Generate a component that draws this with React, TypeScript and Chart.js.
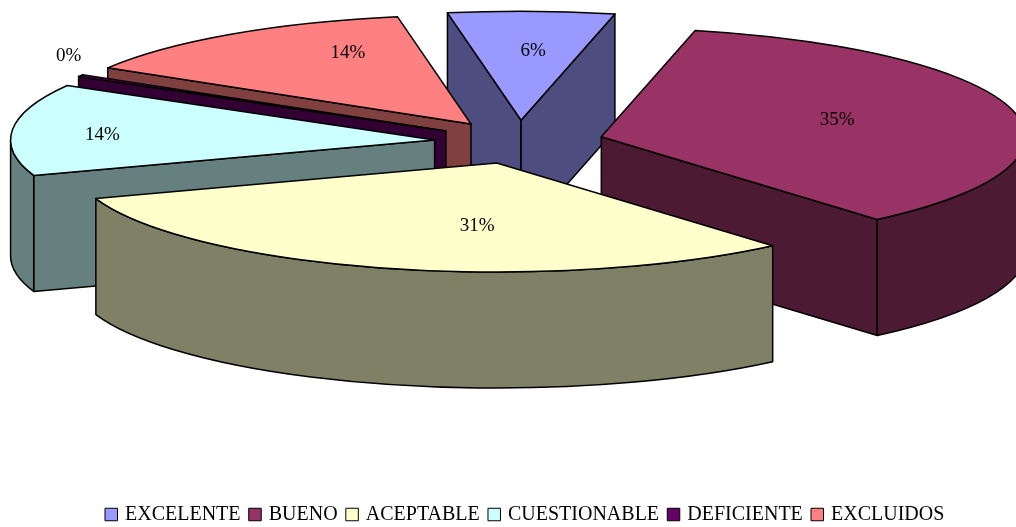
import React, { useEffect, useRef } from "react";
import { Chart, registerables } from "chart.js";

Chart.register(...registerables);

const categories = ["EXCELENTE", "BUENO", "ACEPTABLE", "CUESTIONABLE", "DEFICIENTE", "EXCLUIDOS"];
const sliceValues = [6.33, 35.17, 31, 13.6, 0.3, 13.6];
const percentLabels = ["6%", "35%", "31%", "14%", "0%", "14%"];
const topColors = ["#9999FF", "#993366", "#FFFFCC", "#CCFFFF", "#660066", "#FF8080"];
const sideColors = ["#4D4D80", "#4D1A33", "#808066", "#668080", "#330033", "#804040"];
const labelNudge = [[6, -4], [-11, -1], [47, 0], [-79, 1], [-158, -42], [21, -17]];

const RX = 424;
const RY = 109;
const DEPTH = 116;
const EXPLODE = 0.2;
const SERIF = '"Liberation Serif", "Times New Roman", serif';

const pie3d = {
  id: "pie3d",
  beforeDatasetsDraw(chart: any) {
    const ctx = chart.ctx;
    const arcs = chart.getDatasetMeta(0).data.map((el: any, i: number) => {
      const s = el.startAngle;
      const e = el.endAngle;
      const mid = (s + e) / 2;
      return {
        i, s, e, mid,
        x: el.x + Math.cos(mid) * RX * EXPLODE,
        y: el.y + Math.sin(mid) * RY * EXPLODE,
      };
    });
    const ordered = [...arcs].sort((a, b) => Math.sin(a.mid) - Math.sin(b.mid));
    ctx.save();
    ctx.lineWidth = 1.5;
    ctx.strokeStyle = "#000";
    ctx.lineJoin = "round";
    for (const a of ordered) {
      ctx.fillStyle = sideColors[a.i];
      const wall = (t: number) => {
        const px = a.x + Math.cos(t) * RX;
        const py = a.y + Math.sin(t) * RY;
        ctx.beginPath();
        ctx.moveTo(a.x, a.y);
        ctx.lineTo(px, py);
        ctx.lineTo(px, py + DEPTH);
        ctx.lineTo(a.x, a.y + DEPTH);
        ctx.closePath();
        ctx.fill();
        ctx.stroke();
      };
      if (Math.cos(a.s) < 0) wall(a.s);
      if (Math.cos(a.e) > 0) wall(a.e);
      for (let k = -1; k <= 1; k++) {
        const lo = Math.max(a.s, k * 2 * Math.PI);
        const hi = Math.min(a.e, k * 2 * Math.PI + Math.PI);
        if (hi <= lo) continue;
        ctx.beginPath();
        ctx.ellipse(a.x, a.y, RX, RY, 0, lo, hi);
        ctx.ellipse(a.x, a.y + DEPTH, RX, RY, 0, hi, lo, true);
        ctx.closePath();
        ctx.fill();
        ctx.stroke();
      }
      ctx.fillStyle = topColors[a.i];
      ctx.beginPath();
      ctx.moveTo(a.x, a.y);
      ctx.ellipse(a.x, a.y, RX, RY, 0, a.s, a.e);
      ctx.closePath();
      ctx.fill();
      ctx.stroke();
    }
    ctx.fillStyle = "#000";
    ctx.font = `19px ${SERIF}`;
    ctx.textAlign = "center";
    ctx.textBaseline = "middle";
    for (const a of arcs) {
      const [nx, ny] = labelNudge[a.i];
      const lx = a.x + Math.cos(a.mid) * RX * 0.6 + nx;
      const ly = a.y + Math.sin(a.mid) * RY * 0.6 + ny;
      ctx.fillText(percentLabels[a.i], lx, ly);
    }
    // legend
    ctx.font = `20px ${SERIF}`;
    ctx.textAlign = "left";
    const box = 12.5;
    const toText = 20;
    const gapItems = 8.2;
    const widths = categories.map((c) => ctx.measureText(c).width);
    let x = 105;
    const yMid = 514.5;
    categories.forEach((c, i) => {
      ctx.fillStyle = topColors[i];
      ctx.fillRect(x, yMid - box / 2, box, box);
      ctx.lineWidth = 1;
      ctx.strokeRect(x, yMid - box / 2, box, box);
      ctx.fillStyle = "#000";
      ctx.fillText(c, x + toText, yMid);
      x += toText + widths[i] + gapItems;
    });
    ctx.restore();
    return false;
  },
};

export default function App() {
  const ref = useRef<HTMLCanvasElement>(null);
  useEffect(() => {
    const chart = new Chart(ref.current as HTMLCanvasElement, {
      type: "pie",
      data: {
        labels: categories,
        datasets: [{ data: sliceValues, backgroundColor: topColors, borderColor: "#000", borderWidth: 1 }],
      },
      options: {
        responsive: false,
        animation: false,
        rotation: -10,
        layout: { padding: { left: 22, right: 0, top: 0, bottom: 243 } },
        plugins: { legend: { display: false }, tooltip: { enabled: false }, title: { display: false } },
      },
      plugins: [pie3d],
    } as any);
    return () => chart.destroy();
  }, []);
  return (
    <div style={{ position: "fixed", left: 0, top: 0, width: 1016, height: 527, background: "#fff" }}>
      <canvas ref={ref} width={1016} height={527} style={{ display: "block" }} />
    </div>
  );
}
